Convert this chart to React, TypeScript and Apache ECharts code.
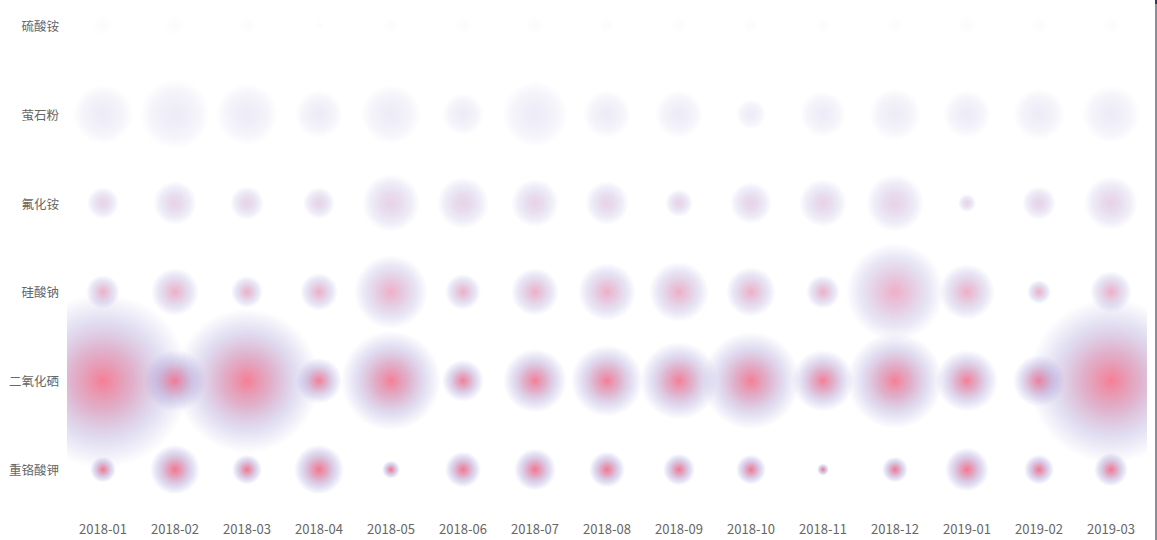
import React, { useEffect, useRef } from "react";
import * as echarts from "echarts";

const months = [
  "2018-01", "2018-02", "2018-03", "2018-04", "2018-05", "2018-06", "2018-07", "2018-08",
  "2018-09", "2018-10", "2018-11", "2018-12", "2019-01", "2019-02", "2019-03",
];

const chemicals = ["重铬酸钾", "二氧化硒", "硅酸钠", "氟化铵", "萤石粉", "硫酸铵"];

// bubble sizes per chemical, one per month
const kDichromate = [26, 50, 30, 50, 18, 36, 42, 36, 32, 30, 12, 26, 44, 30, 34];
const seleniumDioxide = [175, 62, 145, 46, 100, 42, 64, 72, 78, 98, 62, 96, 62, 52, 165];
const sodiumSilicate = [34, 48, 32, 38, 74, 36, 48, 58, 60, 50, 34, 98, 56, 24, 42];
const ammoniumFluoride = [32, 44, 34, 32, 58, 52, 48, 44, 28, 42, 48, 58, 18, 34, 54];
const fluorite = [60, 70, 62, 48, 60, 42, 66, 48, 48, 30, 46, 52, 48, 52, 58];
const ammoniumSulfate = [20, 20, 16, 8, 14, 16, 18, 14, 16, 14, 14, 16, 18, 16, 16];

const rows = [kDichromate, seleniumDioxide, sodiumSilicate, ammoniumFluoride, fluorite, ammoniumSulfate];

// per-row styling (visual, not data)
const centerRGB = [
  [246, 82, 110],
  [242, 86, 116],
  [225, 100, 145],
  [190, 120, 180],
  [165, 150, 205],
  [165, 155, 210],
];
const centerA = [1, 0.95, 0.65, 0.42, 0.24, 0.05];
const lavA = [0.7, 0.62, 0.5, 0.36, 0.2, 0.04];
const LAV = [160, 150, 212];

function mix(a: number[], b: number[], t: number) {
  return a.map((v, i) => Math.round(v * (1 - t) + b[i] * t));
}

export default function App() {
  const ref = useRef<HTMLDivElement>(null);
  useEffect(() => {
    if (!ref.current) return;
    const chart = echarts.init(ref.current, undefined, { renderer: "svg" });
    const series = rows
      .map((vals, yi) => {
        const c = centerRGB[yi];
        const m = mix(c, LAV, 0.5);
        const midA = Math.max(lavA[yi], centerA[yi] * 0.75);
        return {
          name: chemicals[yi],
          type: "scatter",
          z: 2,
          data: vals.map((v, xi) => [xi, yi, v]),
          symbolSize: (val: number[]) => val[2],
          itemStyle: {
            color: new echarts.graphic.RadialGradient(0.5, 0.5, 0.5, [
              { offset: 0, color: `rgba(${c.join(",")}, ${centerA[yi]})` },
              { offset: 0.35, color: `rgba(${m.join(",")}, ${midA})` },
              { offset: 0.7, color: `rgba(${LAV.join(",")}, ${lavA[yi] * 0.6})` },
              { offset: 1, color: `rgba(${LAV.join(",")}, 0)` },
            ]),
          },
        };
      })
      .reverse();
    const labelFont = "'Noto Sans CJK SC', sans-serif";
    chart.setOption({
      animation: false,
      grid: { left: 67, width: 1080, top: -19, height: 533, outerBoundsMode: "none", containLabel: false },
      graphic: [
        { type: "rect", z: 10, shape: { x: 0, y: 0, width: 67, height: 540 }, style: { fill: "#fff" } },
        { type: "rect", z: 10, shape: { x: 1147, y: 0, width: 10, height: 540 }, style: { fill: "#fff" } },
      ],
      xAxis: {
        type: "category",
        data: months,
        boundaryGap: true,
        z: 20,
        axisLine: { show: false },
        axisTick: { show: false },
        splitLine: { show: false },
        axisLabel: { color: "#666", fontSize: 13, margin: 8, fontFamily: labelFont },
      },
      yAxis: {
        type: "category",
        data: chemicals,
        boundaryGap: true,
        z: 20,
        axisLine: { show: false },
        axisTick: { show: false },
        splitLine: { show: false },
        axisLabel: { color: "#666", fontSize: 12.5, margin: 8, fontFamily: labelFont },
      },
      series,
    });
    return () => chart.dispose();
  }, []);
  return (
    <div style={{ position: "absolute", left: 0, top: 0, width: 1157, height: 540, background: "#fff" }}>
      <div ref={ref} style={{ position: "absolute", left: 0, top: 0, width: 1157, height: 540 }} />
      <div style={{ position: "absolute", left: 1155, top: 0, width: 2, height: 540, background: "#8b8e96" }} />
      <div style={{ position: "absolute", left: 1155, top: 0, width: 2, height: 4, background: "#2a3d6a" }} />
    </div>
  );
}
